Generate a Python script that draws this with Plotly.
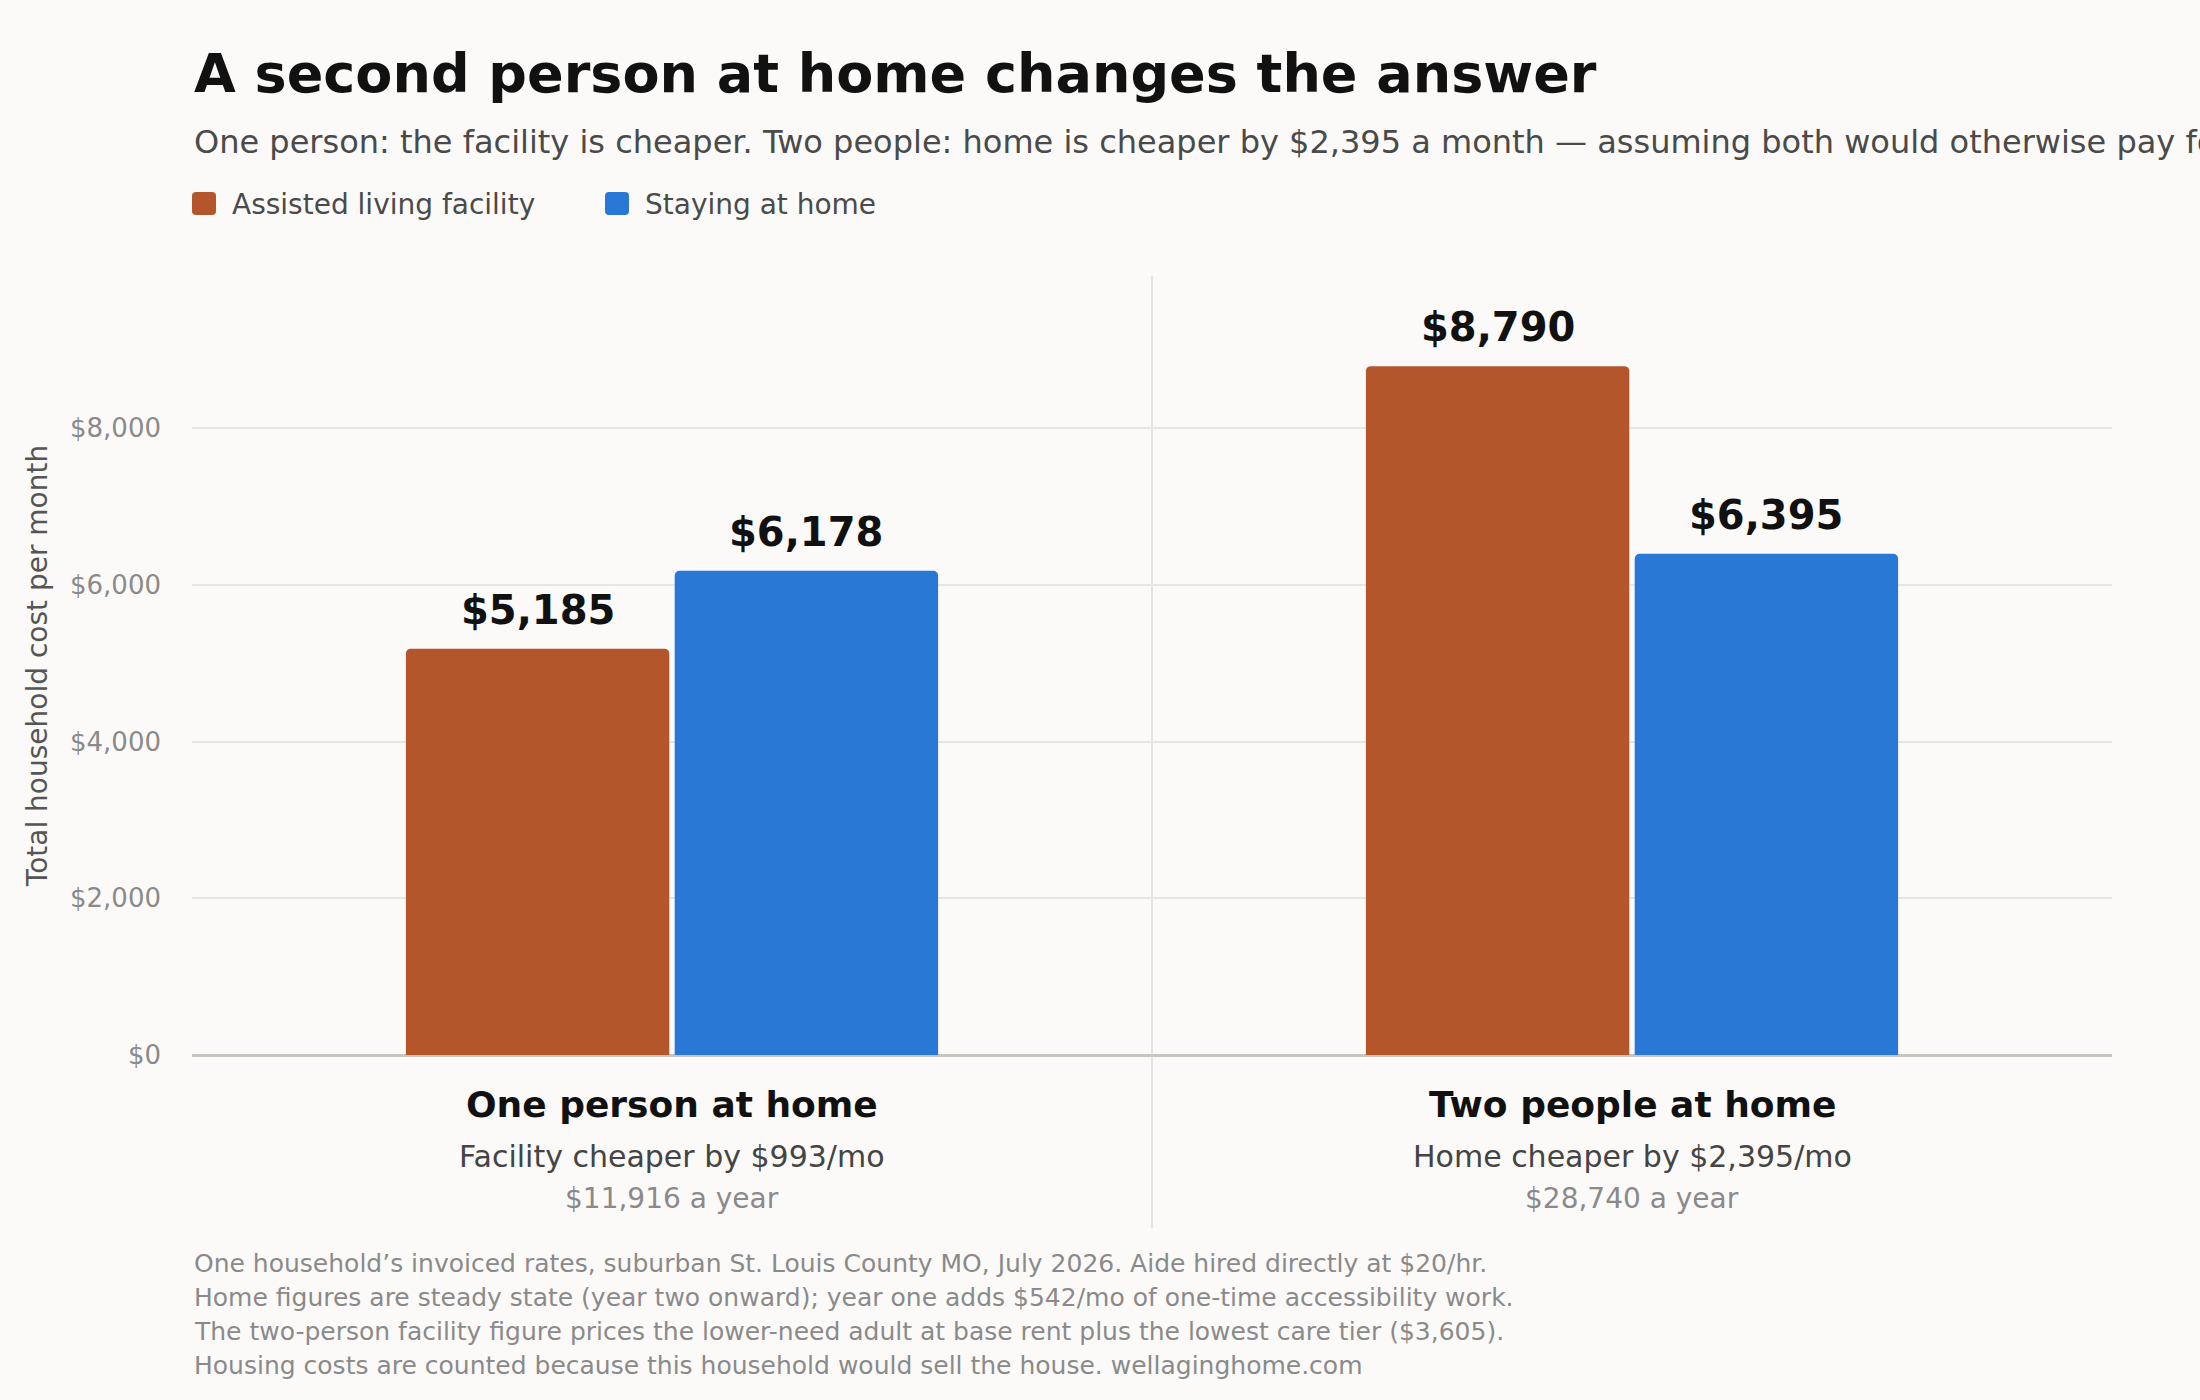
import plotly.graph_objects as go

# ---------------- data ----------------
categories = ["One person at home", "Two people at home"]
facility_cost = [5185, 8790]
home_cost = [6178, 6395]
series_names = ["Assisted living facility", "Staying at home"]
diff_lines = ["Facility cheaper by $993/mo", "Home cheaper by $2,395/mo"]
year_lines = ["$11,916 a year", "$28,740 a year"]
tick_values = [0, 2000, 4000, 6000, 8000]
tick_labels = ["$0", "$2,000", "$4,000", "$6,000", "$8,000"]

title_text = "A second person at home changes the answer"
subtitle_text = ("One person: the facility is cheaper. Two people: home is cheaper by $2,395 a month "
                 "\u2014 assuming both would otherwise pay for care.")
y_title = "Total household cost per month"
footnote_lines = [
    "One household\u2019s invoiced rates, suburban St. Louis County MO, July 2026. Aide hired directly at $20/hr.",
    "Home figures are steady state (year two onward); year one adds $542/mo of one-time accessibility work.",
    "The two-person facility figure prices the lower-need adult at base rent plus the lowest care tier ($3,605).",
    "Housing costs are counted because this household would sell the house. wellaginghome.com",
]

# ---------------- style ----------------
FONT = "DejaVu Sans"
BG = "#fbfaf8"
COLORS = ["#b4562b", "#2a78d6"]
BARGAP = 0.44
W, H = 2200, 1400
ML, MR, MT, MB = 192, 88, 276, 345
PW, PH = W - ML - MR, H - MT - MB


def py(px_from_top):
    return (H - MB - px_from_top) / PH


def pxx(px_from_left):
    return (px_from_left - ML) / PW


def rounded_rect(x0, y0, x1, y1, r):
    """pixel box -> paper-coordinate SVG path with rounded corners"""
    X = pxx
    Y = py
    return (f"M{X(x0 + r)},{Y(y0)} L{X(x1 - r)},{Y(y0)} Q{X(x1)},{Y(y0)} {X(x1)},{Y(y0 + r)} "
            f"L{X(x1)},{Y(y1 - r)} Q{X(x1)},{Y(y1)} {X(x1 - r)},{Y(y1)} "
            f"L{X(x0 + r)},{Y(y1)} Q{X(x0)},{Y(y1)} {X(x0)},{Y(y1 - r)} "
            f"L{X(x0)},{Y(y0 + r)} Q{X(x0)},{Y(y0)} {X(x0 + r)},{Y(y0)} Z")


fig = go.Figure()
for name, vals, col in zip(series_names, (facility_cost, home_cost), COLORS):
    fig.add_trace(go.Bar(x=categories, y=vals, name=name, showlegend=False,
                         marker=dict(color=col, cornerradius=5, line=dict(width=0)),
                         hoverinfo="skip"))

annotations = []
shapes = []
# value labels above bars
off = (1 - BARGAP) / 4
for i, cat in enumerate(categories):
    for vals, sgn in ((facility_cost, -1), (home_cost, 1)):
        annotations.append(dict(x=i + sgn * off, y=vals[i], xref="x", yref="y",
                                text=f"<b>${vals[i]:,}</b>", showarrow=False,
                                yanchor="bottom", xanchor="center", yshift=14,
                                font=dict(family=FONT, size=40, color="#111111")))
    annotations.append(dict(x=i, y=py(1104), xref="x", yref="paper", text=f"<b>{cat}</b>",
                            showarrow=False, yanchor="middle",
                            font=dict(family=FONT, size=36, color="#111111")))
    annotations.append(dict(x=i, y=py(1156), xref="x", yref="paper", text=diff_lines[i],
                            showarrow=False, yanchor="middle",
                            font=dict(family=FONT, size=30, color="#444444")))
    annotations.append(dict(x=i, y=py(1198), xref="x", yref="paper", text=year_lines[i],
                            showarrow=False, yanchor="middle",
                            font=dict(family=FONT, size=28, color="#8a8a8a")))

# legend (swatch + label)
legend_x = [192, 605]
for name, col, lx in zip(series_names, COLORS, legend_x):
    shapes.append(dict(type="path", xref="paper", yref="paper",
                       path=rounded_rect(lx, 192, lx + 24, 215, 4),
                       fillcolor=col, line=dict(width=0), layer="above"))
    annotations.append(dict(x=pxx(lx + 38), y=py(204), xref="paper", yref="paper", text=name,
                            showarrow=False, xanchor="left", yanchor="middle",
                            font=dict(family=FONT, size=28, color="#4a4a4a")))

# title / subtitle
annotations.append(dict(x=0, y=py(73), xref="paper", yref="paper", text=f"<b>{title_text}</b>",
                        showarrow=False, xanchor="left", yanchor="middle",
                        font=dict(family=FONT, size=54, color="#111111")))
annotations.append(dict(x=0, y=py(142), xref="paper", yref="paper", text=subtitle_text,
                        showarrow=False, xanchor="left", yanchor="middle",
                        font=dict(family=FONT, size=32, color="#4a4a4a")))
# footnotes
for k, line in enumerate(footnote_lines):
    annotations.append(dict(x=0, y=py(1263 + 34 * k), xref="paper", yref="paper", text=line,
                            showarrow=False, xanchor="left", yanchor="middle",
                            font=dict(family=FONT, size=25, color="#8a8a8a")))

shapes.append(dict(type="line", xref="paper", yref="paper", x0=0.5, x1=0.5,
                   y0=py(1228), y1=1, line=dict(color="#dddddd", width=1.5), layer="below"))

fig.update_layout(
    template="none",
    width=W, height=H,
    margin=dict(l=ML, r=MR, t=MT, b=MB, autoexpand=False),
    paper_bgcolor=BG, plot_bgcolor=BG,
    font=dict(family=FONT, color="#444444"),
    barmode="group", bargap=BARGAP, bargroupgap=0.02,
    showlegend=False,
    xaxis=dict(type="category", showticklabels=False, showgrid=False, zeroline=False,
               showline=False, ticks="", automargin=False, range=[-0.5, 1.5]),
    yaxis=dict(range=[0, 9940], tickmode="array", tickvals=tick_values, ticktext=tick_labels,
               showgrid=True, gridcolor="#e6e6e4", gridwidth=1.5,
               zeroline=True, zerolinecolor="#c6c6be", zerolinewidth=3,
               showline=False, ticks="", ticklabelstandoff=30, automargin=False,
               tickfont=dict(family=FONT, size=26, color="#8a8a8a"),
               title=dict(text=y_title, standoff=14,
                          font=dict(family=FONT, size=28, color="#555555"))),
    shapes=shapes,
    annotations=annotations,
)

fig.write_html("out.html")
